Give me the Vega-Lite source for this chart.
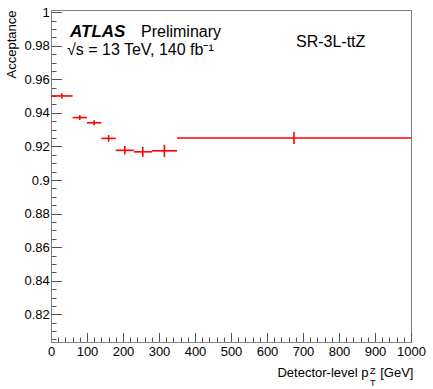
{
  "$schema": "https://vega.github.io/schema/vega-lite/v6.json",
  "width": 360,
  "height": 332,
  "autosize": {"type": "none"},
  "padding": {"left": 51, "top": 10, "right": 22, "bottom": 47},
  "background": "white",
  "config": {
    "view": {"stroke": "#808080", "strokeWidth": 1},
    "font": "Liberation Sans"
  },
  "datasets": {
    "bins": [
      {"lo": 0, "hi": 60, "x": 30, "y": 0.9501, "ylo": 0.9485, "yhi": 0.9517},
      {"lo": 60, "hi": 100, "x": 80, "y": 0.9372, "ylo": 0.9357, "yhi": 0.9387},
      {"lo": 100, "hi": 140, "x": 120, "y": 0.9341, "ylo": 0.9326, "yhi": 0.9356},
      {"lo": 140, "hi": 180, "x": 160, "y": 0.9248, "ylo": 0.9228, "yhi": 0.9268},
      {"lo": 180, "hi": 230, "x": 205, "y": 0.9177, "ylo": 0.9152, "yhi": 0.9202},
      {"lo": 230, "hi": 280, "x": 255, "y": 0.9168, "ylo": 0.9138, "yhi": 0.9198},
      {"lo": 280, "hi": 350, "x": 315, "y": 0.9174, "ylo": 0.9138, "yhi": 0.921},
      {"lo": 350, "hi": 1000, "x": 675, "y": 0.925, "ylo": 0.9214, "yhi": 0.9286}
    ],
    "atlas": [
      {"tx": 52.8, "ty": 0.9852, "label": "ATLAS"}
    ],
    "notes": [
      {"tx": 250, "ty": 0.9852, "label": "Preliminary"},
      {"tx": 44.4, "ty": 0.9745, "label": "√s = 13 TeV, 140 fb⁻¹"},
      {"tx": 680.5, "ty": 0.9794, "label": "SR-3L-ttZ"}
    ]
  },
  "resolve": {"axis": {"x": "independent", "y": "independent"}},
  "layer": [
    {
      "data": {"name": "bins"},
      "mark": {"type": "rule", "color": "#ff0000", "strokeWidth": 1.6},
      "encoding": {
        "x": {
          "field": "lo", "type": "quantitative",
          "scale": {"domain": [0, 1000], "nice": false, "zero": false},
          "axis": {
            "orient": "bottom",
            "values": [0,20,40,60,80,100,120,140,160,180,200,220,240,260,280,300,320,340,360,380,400,420,440,460,480,500,520,540,560,580,600,620,640,660,680,700,720,740,760,780,800,820,840,860,880,900,920,940,960,980,1000],
            "grid": false,
            "domainColor": "#808080",
            "tickColor": "#555555",
            "tickWidth": 1,
            "tickSize": {"condition": {"test": "datum.value % 100 === 0", "value": -9.5}, "value": -5},
            "labelExpr": "datum.value % 100 === 0 ? format(datum.value, 'd') : ''",
            "labelPadding": 13,
            "labelFlush": false,
            "labelOverlap": false,
            "labelFont": "Liberation Sans",
            "labelFontSize": 13,
            "labelColor": "#000000",
            "labelBaseline": "top",
            "title": "Detector-level p",
            "titleX": 317,
            "titleY": 34,
            "titleAlign": "right",
            "titleBaseline": "alphabetic",
            "titleAngle": 0,
            "titleFont": "Liberation Sans",
            "titleFontSize": 13,
            "titleFontWeight": "normal",
            "titleColor": "#000000"
          }
        },
        "x2": {"field": "hi"},
        "y": {
          "field": "y", "type": "quantitative",
          "scale": {"domain": [0.8035, 1.0013], "nice": false, "zero": false},
          "axis": {
            "orient": "left",
            "values": [0.805,0.81,0.815,0.82,0.825,0.83,0.835,0.84,0.845,0.85,0.855,0.86,0.865,0.87,0.875,0.88,0.885,0.89,0.895,0.9,0.905,0.91,0.915,0.92,0.925,0.93,0.935,0.94,0.945,0.95,0.955,0.96,0.965,0.97,0.975,0.98,0.985,0.99,0.995,1.0],
            "grid": false,
            "domainColor": "#808080",
            "tickColor": "#555555",
            "tickWidth": 1,
            "tickSize": {"condition": {"test": "abs(datum.value * 50 - round(datum.value * 50)) < 0.001", "value": -10.5}, "value": -5},
            "labelExpr": "abs(datum.value * 50 - round(datum.value * 50)) < 0.001 ? format(datum.value, '~r') : ''",
            "labelPadding": 12.2,
            "labelOverlap": false,
            "labelFlush": false,
            "labelFont": "Liberation Sans",
            "labelFontSize": 13,
            "labelColor": "#000000",
            "title": "Acceptance",
            "titleX": -36,
            "titleY": 0,
            "titleAngle": 270,
            "titleAlign": "right",
            "titleBaseline": "alphabetic",
            "titleFont": "Liberation Sans",
            "titleFontSize": 13,
            "titleFontWeight": "normal",
            "titleColor": "#000000"
          }
        }
      }
    },
    {
      "data": {"name": "bins"},
      "mark": {"type": "rule", "color": "#ff0000", "strokeWidth": 1.6},
      "encoding": {
        "x": {
          "field": "x", "type": "quantitative",
          "scale": {"domain": [0, 1000], "nice": false, "zero": false},
          "axis": {
            "orient": "bottom", "domain": false, "ticks": false, "labels": false, "grid": false,
            "title": "Z", "titleX": 318.5, "titleY": 31.5, "titleAlign": "left", "titleBaseline": "alphabetic",
            "titleAngle": 0, "titleFont": "Liberation Sans", "titleFontSize": 9, "titleFontWeight": "normal", "titleColor": "#000000"
          }
        },
        "y": {
          "field": "ylo", "type": "quantitative",
          "scale": {"domain": [0.8035, 1.0013], "nice": false, "zero": false},
          "axis": null
        },
        "y2": {"field": "yhi"}
      }
    },
    {
      "data": {"name": "atlas"},
      "mark": {"type": "text", "font": "Liberation Sans", "fontSize": 17, "fontWeight": "bold", "fontStyle": "italic", "align": "left", "baseline": "alphabetic", "color": "#000000"},
      "encoding": {
        "x": {
          "field": "tx", "type": "quantitative",
          "scale": {"domain": [0, 1000], "nice": false, "zero": false},
          "axis": {
            "orient": "bottom", "domain": false, "ticks": false, "labels": false, "grid": false,
            "title": "T", "titleX": 318.5, "titleY": 43.5, "titleAlign": "left", "titleBaseline": "alphabetic",
            "titleAngle": 0, "titleFont": "Liberation Sans", "titleFontSize": 9, "titleFontWeight": "normal", "titleColor": "#000000"
          }
        },
        "y": {
          "field": "ty", "type": "quantitative",
          "scale": {"domain": [0.8035, 1.0013], "nice": false, "zero": false},
          "axis": null
        },
        "text": {"field": "label"}
      }
    },
    {
      "data": {"name": "notes"},
      "mark": {"type": "text", "font": "Liberation Sans", "fontSize": 16, "align": "left", "baseline": "alphabetic", "color": "#000000"},
      "encoding": {
        "x": {
          "field": "tx", "type": "quantitative",
          "scale": {"domain": [0, 1000], "nice": false, "zero": false},
          "axis": {
            "orient": "bottom", "domain": false, "ticks": false, "labels": false, "grid": false,
            "title": "[GeV]", "titleX": 362, "titleY": 34, "titleAlign": "right", "titleBaseline": "alphabetic",
            "titleAngle": 0, "titleFont": "Liberation Sans", "titleFontSize": 13, "titleFontWeight": "normal", "titleColor": "#000000"
          }
        },
        "y": {
          "field": "ty", "type": "quantitative",
          "scale": {"domain": [0.8035, 1.0013], "nice": false, "zero": false},
          "axis": null
        },
        "text": {"field": "label"}
      }
    }
  ]
}
